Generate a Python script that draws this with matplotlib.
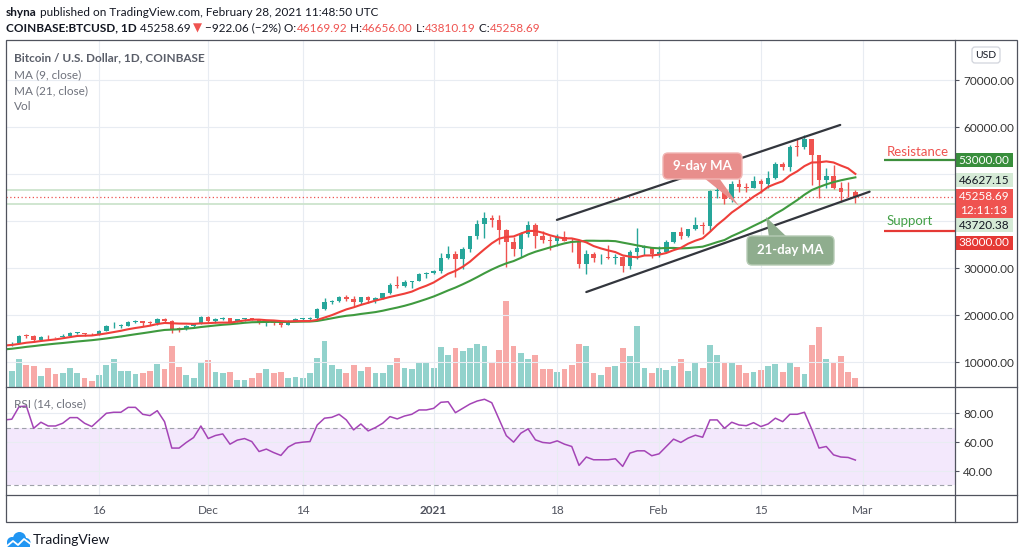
import matplotlib
matplotlib.use("Agg")
import matplotlib.pyplot as plt
import matplotlib.dates as mdates
from matplotlib.patches import FancyBboxPatch, Polygon, Rectangle, Circle
import numpy as np
import pandas as pd

plt.rcParams['font.family'] = ['Lato', 'DejaVu Sans']

# closes before the first visible candle (Oct 14 - Nov 2), only feed the moving averages
prev_closes = [11430, 11500, 11320, 11360, 11500, 11750, 11920, 12820, 12990, 12930,
               13120, 13040, 13070, 13650, 13280, 13460, 13560, 13800, 13760, 13550]

dates = pd.date_range("2020-11-03", "2021-02-28", freq="D")

opens = [
    # Nov 3 - Nov 30
    13550, 14030, 14150, 15600, 15580, 14830, 15480, 15330, 15310, 15700, 16290, 16330, 16080, 15960,
    16720, 17660, 17800, 17820, 18650, 18700, 18420, 18370, 19160, 18740, 17150, 17140, 17720, 18180,
    # Dec
    19700, 18770, 19220, 19430, 18650, 19150, 19360, 19170, 18320, 18550, 18260, 18040, 18800, 19170,
    19270, 19440, 21350, 22800, 23130, 23860, 23480, 22750, 23830, 23250, 23730, 24700, 26440, 26250,
    27030, 27360, 28880,
    # Jan
    28990, 29390, 32190, 33000, 32020, 34030, 36820, 39470, 40670, 40240, 38240, 35550, 34040, 37400,
    39150, 36800, 36050, 35800, 36630, 35900, 35500, 30830, 33000, 32100, 32290, 32270, 32500, 30400,
    33400, 34280, 34300,
    # Feb
    33100, 33540, 35510, 37680, 36950, 38300, 39240, 38900, 46440, 46500, 44840, 47990, 47400, 47180,
    48580, 47940, 49140, 52140, 51590, 55910, 55840, 57410, 54100, 48890, 49700, 47060, 46280, 46169.92]
highs = [
    14070, 14250, 15770, 15970, 15770, 15650, 15840, 15470, 15960, 16350, 16480, 16330, 16130, 16900,
    17860, 18480, 18190, 18810, 18970, 18750, 18760, 19420, 19480, 18920, 17460, 17870, 18350, 19870,
    19920, 19330, 19580, 19520, 19170, 19420, 19400, 19290, 18640, 18560, 18280, 18950, 19410, 19350,
    19570, 21560, 23770, 23290, 24170, 24300, 24100, 23840, 24100, 23790, 24790, 26870, 28420, 27500,
    27390, 28990, 29300,
    29680, 33300, 34800, 33600, 34500, 36950, 40370, 41950, 41380, 41350, 38260, 36600, 37800, 40100,
    39700, 37950, 36850, 37400, 37850, 36400, 35600, 33850, 33480, 32950, 34880, 32950, 32560, 33800,
    38600, 34940, 34300,
    34700, 35990, 37700, 38700, 38300, 40950, 39750, 46750, 48200, 47330, 48650, 48900, 48120, 49700,
    49000, 50620, 52580, 52530, 56300, 57560, 58350, 57530, 54180, 51400, 52040, 48400, 48400, 46656.00]
lows = [
    13290, 13530, 14120, 15200, 14360, 14710, 14820, 15090, 15280, 15450, 15990, 15700, 15800, 15880,
    16560, 17220, 17360, 17770, 18370, 17630, 18010, 18030, 18580, 16200, 16500, 16880, 17530, 18180,
    18320, 18340, 18930, 18570, 18500, 18870, 18900, 18200, 17650, 17900, 17580, 18020, 18710, 19000,
    19060, 19300, 21230, 22350, 22770, 23070, 21900, 22360, 22720, 22700, 23450, 24500, 25860, 26100,
    25880, 27320, 28000,
    28700, 29030, 32000, 28130, 29900, 33400, 36300, 36500, 38720, 35110, 30300, 32520, 32380, 36700,
    34400, 35400, 33850, 34750, 35780, 33400, 30100, 28800, 31400, 30900, 31900, 30830, 29240, 29900,
    31950, 32850, 32250,
    32300, 33430, 35370, 36160, 36600, 38240, 37350, 37990, 45000, 43700, 44060, 46180, 46270, 47060,
    45950, 47090, 48950, 50900, 50710, 53860, 55480, 47700, 45000, 47020, 46800, 44200, 45100, 43810.19]
closes = [
    14030, 14150, 15600, 15580, 14830, 15480, 15330, 15310, 15700, 16290, 16330, 16080, 15960, 16720,
    17660, 17800, 17820, 18650, 18700, 18420, 18370, 19160, 18740, 17150, 17140, 17720, 18180, 19700,
    18770, 19220, 19430, 18650, 19150, 19360, 19170, 18320, 18550, 18260, 18040, 18800, 19170, 19270,
    19440, 21350, 22800, 23130, 23860, 23480, 22750, 23830, 23250, 23730, 24700, 26440, 26250, 27030,
    27360, 28880, 28990,
    29390, 32190, 33000, 32020, 34030, 36820, 39470, 40670, 40240, 38240, 35550, 34040, 37400, 39150,
    36800, 36050, 35800, 36630, 35900, 35500, 30830, 33000, 32100, 32290, 32270, 32500, 30400, 33400,
    34280, 34300, 33100,
    33540, 35510, 37680, 36950, 38300, 39240, 38900, 46440, 46500, 44840, 47990, 47400, 47180, 48580,
    47940, 49140, 52140, 51590, 55910, 55840, 57410, 54100, 48890, 49700, 47060, 46280, 46170, 45258.69]

# volume, thousands
volume = [
    12.3, 15.7, 28, 22.3, 21.3, 10.7, 19.3, 12.7, 13.7, 19.3, 13.7, 9, 6.3, 12.3,
    22.3, 28, 15.7, 16.3, 12.7, 13.7, 15.7, 23.3, 18.3, 41.3, 20.3, 11.7, 9, 24.3,
    27, 14.7, 13.7, 14.5, 7.2, 7, 9, 13.7, 18.3, 13.7, 15.3, 8.7, 9.7, 8.7,
    13.7, 29, 46, 22.3, 18.3, 13.7, 22.3, 16.3, 20.3, 14.3, 14.3, 22.3, 28.7, 19.3,
    18.3, 25, 25,
    19.3, 40.3, 31.7, 39.3, 36.3, 39.3, 43.3, 41.3, 24.3, 37.3, 86.3, 41.3, 34.3, 28,
    32, 18.3, 17.7, 15.3, 17.7, 22.3, 43.3, 41.3, 14.3, 12.3, 20.3, 21.3, 39.3, 31,
    61.3, 19.3, 14.3,
    19.3, 17.3, 21.3, 28, 16.3, 24.7, 19, 41.7, 32, 23.7, 23.7, 21.7, 13.7, 15.3,
    17, 20.7, 22.7, 15.3, 24.7, 20, 12.7, 41.7, 60.3, 27.7, 24.7, 31, 15, 9.3]

rsi = [
    75.4, 75.9, 84.6, 85, 69.6, 73.8, 71.2, 71.2, 73.1, 77, 77, 73.1, 70.8, 75.4,
    80, 80.7, 80.7, 84.1, 84.1, 79.3, 78.4, 81.8, 74.2, 55.9, 55.9, 59.8, 63.2, 71.2,
    62.5, 64.6, 65.7, 58.6, 61.4, 62.5, 60.4, 53.5, 55.2, 52.8, 50.8, 56.6, 59.3, 60,
    60.4, 71.9, 76.6, 77.2, 79.3, 75.4, 68.5, 72.6, 67.8, 70.1, 73.1, 77.7, 76.1, 78.1,
    79.3, 82.3, 82.3,
    83.4, 87.6, 88, 80.4, 83.4, 86.4, 88.5, 89.7, 87.3, 75.9, 64.5, 60, 66.2, 69.2,
    61.6, 59.8, 59.3, 60.9, 58.6, 57, 43.9, 49.7, 47.8, 47.8, 47.8, 48.5, 43.2, 52.4,
    54, 54, 50.6,
    51.9, 57, 62.1, 59.8, 62.8, 64.8, 63.4, 75.4, 75.4, 69.6, 73.8, 71.9, 71.4, 73.5,
    70.8, 72.6, 76.6, 74.2, 79.3, 79.3, 80.7, 69, 55.9, 57, 51.2, 49.7, 49.4, 47.6]

# trend channel drawn on the chart (date, price)
channel_upper = [("2021-01-17 23:00", 40300), ("2021-02-25 22:00", 60500)]
channel_lower = [("2021-01-22", 24950), ("2021-03-01 23:00", 46300)]
resistance, support = 53000, 38000
last_price, line_hi, line_lo = 45258.69, 46627.15, 43720.38

price_ticks = [10000, 20000, 30000, 40000, 50000, 60000, 70000]
# 40000 and 50000 sit under the axis price boxes in the reference
price_tick_labels = ["10000.00", "20000.00", "30000.00", "", "", "60000.00", "70000.00"]
tick_dates = ["2020-11-16", "2020-12-01", "2020-12-14", "2021-01-01",
              "2021-01-18", "2021-02-01", "2021-02-15", "2021-03-01"]
tick_labels = ["16", "Dec", "14", "2021", "18", "Feb", "15", "Mar"]

# ---- figure ----
W, H = 1024, 557
GREEN, RED = '#26a69a', '#ef5350'
VGREEN, VRED = '#92d2cc', '#f7a9a7'
GRID = '#e8ecf2'
FRAME = '#50535e'
TXT = '#131722'


def rect(l, t, r, b):
    return [l / W, 1 - b / H, (r - l) / W, (b - t) / H]


fig = plt.figure(figsize=(W / 100, H / 100), dpi=100)
ax = fig.add_axes(rect(6, 40, 955, 387))
vax = ax.twinx()
rax = fig.add_axes(rect(6, 387, 955, 495), sharex=ax)
ax.set_zorder(vax.get_zorder() + 1)
ax.patch.set_visible(False)

x = mdates.date2num(dates)
o, h, l, c = map(np.array, (opens, highs, lows, closes))
up = c >= o
col = np.where(up, GREEN, RED)

all_close = pd.Series(prev_closes + closes)
ma9 = all_close.rolling(9).mean().to_numpy()[len(prev_closes):]
ma21 = all_close.rolling(21).mean().to_numpy()[len(prev_closes):]

x0 = mdates.date2num(pd.Timestamp("2020-11-16"))
ax.set_xlim(x0 - 12.8, x0 + 117.7)
ax.set_ylim(4745, 78574)

# volume overlay
vax.bar(x, volume, width=0.8, color=np.where(up, VGREEN, VRED), lw=0)
vax.set_ylim(0, max(volume) * 4.02)
vax.set_yticks([])

ax.grid(True, color=GRID, lw=0.8)
ax.set_axisbelow(True)
ax.axhline(line_hi, color='#cde4cd', lw=1.3, zorder=1)
ax.axhline(line_lo, color='#cde4cd', lw=1.3, zorder=1)
ax.axhline(last_price, color=RED, lw=0.9, ls=(0, (1, 2)), zorder=1)

# candles
ax.vlines(x, l, h, colors=col, lw=1, zorder=3)
ax.bar(x, np.maximum(np.abs(c - o), 150), bottom=np.minimum(o, c), width=0.62,
       color=col, lw=0, zorder=4)

ax.plot(x, ma21, color='#3f9a3f', lw=1.5, zorder=5)
ax.plot(x, ma9, color='#ef3f3a', lw=1.5, zorder=5)

for seg in (channel_upper, channel_lower):
    sx = [mdates.date2num(pd.Timestamp(d)) for d, _ in seg]
    sy = [p for _, p in seg]
    ax.plot(sx, sy, color='#33363d', lw=1.6, zorder=6, solid_capstyle='round')

xr = mdates.date2num(pd.Timestamp("2021-03-04"))
ax.hlines(resistance, xr, ax.get_xlim()[1], color='#3c8f3c', lw=1.6, zorder=6)
ax.hlines(support, xr, ax.get_xlim()[1], color='#e53935', lw=1.6, zorder=6)
ax.annotate("Resistance", (xr + 0.3, resistance), xytext=(0, 2.5), textcoords='offset pixels',
            color='#ef5350', fontsize=9.5, va='bottom', ha='left')
ax.annotate("Support", (xr + 0.3, support), xytext=(0, 4), textcoords='offset pixels',
            color='#43a047', fontsize=9.5, va='bottom', ha='left')

ax.set_xticks([mdates.date2num(pd.Timestamp(d)) for d in tick_dates])
ax.tick_params(axis='x', labelbottom=False, length=0)
ax.yaxis.tick_right()
ax.set_yticks(price_ticks)
ax.set_yticklabels(price_tick_labels)
ax.tick_params(axis='y', length=3, width=0.8, color=FRAME, pad=3, labelsize=8.5, labelcolor='#333333')

# RSI pane
rax.axhspan(30, 70, color='#f3e8fc', zorder=0, lw=0)
rax.axhline(70, color='#9ea1a9', lw=0.8, ls=(0, (4, 3)))
rax.axhline(30, color='#9ea1a9', lw=0.8, ls=(0, (4, 3)))
rax.plot(x, rsi, color='#a444b6', lw=1.1)
rax.set_ylim(23.4, 98.2)
rax.grid(True, color=GRID, lw=0.8)
rax.set_axisbelow(True)
rax.yaxis.tick_right()
rax.set_yticks([40, 60, 80])
rax.set_yticklabels(["40.00", "60.00", "80.00"])
rax.tick_params(axis='y', length=3, width=0.8, color=FRAME, pad=3, labelsize=8.5, labelcolor='#333333')
rax.set_xticklabels(tick_labels)
rax.tick_params(axis='x', length=0, pad=7, labelsize=8.5, labelcolor='#50535e')
for t in rax.get_xticklabels():
    if t.get_text() == "2021":
        t.set_fontweight('bold')

for a in (ax, vax, rax):
    for s in a.spines.values():
        s.set_visible(False)

# overlay in pixel coordinates
bg = fig.add_axes([0, 0, 1, 1])
bg.set_xlim(0, W)
bg.set_ylim(H, 0)
bg.axis('off')
bg.set_zorder(10)

bg.add_patch(Rectangle((6, 40), 1011, 482, fill=False, ec=FRAME, lw=0.9))
bg.plot([955, 955], [40, 522], color=FRAME, lw=0.9)
bg.plot([6, 1017], [387, 387], color=FRAME, lw=0.9)
bg.plot([6, 1017], [495, 495], color=FRAME, lw=0.9)


def price_px(p):
    return H - ax.transData.transform((ax.get_xlim()[0], p))[1]


# price labels on the axis: (value, face, text colour, shift in px)
axis_labels = [(resistance, '#388e3c', 'white', 0),
               (line_hi, '#d5ead6', TXT, -10),
               (line_lo, '#d5ead6', TXT, 21.5),
               (support, '#e53935', 'white', 12)]
for val, fc, tc, dy in axis_labels:
    py = price_px(val) + dy
    bg.add_patch(Rectangle((955.5, py - 7), 57.5, 14, fc=fc, ec='none'))
    bg.text(984, py, f"{val:.2f}", color=tc, fontsize=8.5, ha='center', va='center')
py = price_px(last_price)
bg.add_patch(Rectangle((955.5, py - 7.5), 57.5, 29, fc='#ef5350', ec='none'))
bg.text(984, py, f"{last_price:.2f}", color='white', fontsize=8.5, ha='center', va='center')
bg.text(984, py + 14, "12:11:13", color='white', fontsize=8.5, ha='center', va='center')

bg.add_patch(FancyBboxPatch((972, 47), 28, 16, boxstyle='round,pad=0,rounding_size=3',
                            fc='white', ec='#d1d4dc', lw=0.9))
bg.text(986, 55.5, "USD", color=TXT, fontsize=7.5, ha='center', va='center')

# callouts
bg.add_patch(Polygon([(704, 178), (719, 178), (739, 206)], fc='#e88e8c', ec='none'))
bg.add_patch(FancyBboxPatch((663, 153), 79, 26, boxstyle='round,pad=0,rounding_size=5',
                            fc='#e88e8c', ec='#f1b5b3', lw=1))
bg.text(702.5, 166.5, "9-day MA", color='white', fontsize=9.5, fontweight='bold', ha='center', va='center')
bg.add_patch(Polygon([(769, 237), (787, 237), (766, 217)], fc='#8fad8e', ec='none'))
bg.add_patch(FancyBboxPatch((747, 236), 87, 29, boxstyle='round,pad=0,rounding_size=5',
                            fc='#8fad8e', ec='#b5cbb4', lw=1))
bg.text(790.5, 250.5, "21-day MA", color='white', fontsize=9.5, fontweight='bold', ha='center', va='center')

# legend texts
bg.text(14, 58, "Bitcoin / U.S. Dollar, 1D, COINBASE", color='#5a5e69', fontsize=8.5,
        fontweight='bold', va='center')
bg.text(14, 75, "MA (9, close)", color='#6f727c', fontsize=8.5, va='center')
bg.text(14, 91, "MA (21, close)", color='#6f727c', fontsize=8.5, va='center')
bg.text(14, 106, "Vol", color='#6f727c', fontsize=8.5, va='center')
bg.text(14, 404, "RSI (14, close)", color='#6f727c', fontsize=8.5, va='center')


def chain(parts, px, py, size):
    prev = bg.text(px, py, parts[0][0], color=parts[0][1], fontweight=parts[0][2],
                   fontsize=size, va='center')
    for s, color, weight in parts[1:]:
        prev = bg.annotate(s, xy=(1, 0), xycoords=prev, va='bottom', ha='left',
                           color=color, fontweight=weight, fontsize=size)


chain([("shyna", TXT, 'bold'),
       (" published on TradingView.com, February 28, 2021 11:48:50 UTC", TXT, 'normal')], 6, 12, 8.5)
chain([("COINBASE:BTCUSD, 1D", TXT, 'bold'),
       (" 45258.69 ", TXT, 'normal'), ("▼", RED, 'normal'),
       (" \u2212922.06 (\u22122%) O:", TXT, 'normal'), ("46169.92", RED, 'normal'),
       (" H:", TXT, 'normal'), ("46656.00", RED, 'normal'),
       (" L:", TXT, 'normal'), ("43810.19", RED, 'normal'),
       (" C:", TXT, 'normal'), ("45258.69", RED, 'normal')], 6, 28, 8.5)

# TradingView logo
for cx, cy, r in [(12, 542, 5), (19.5, 538.5, 6.5), (26, 542.5, 4.5)]:
    bg.add_patch(Circle((cx, cy), r, fc='#2196f3', ec='none'))
bg.add_patch(Rectangle((7, 542), 23, 5, fc='#2196f3', ec='none'))
bg.plot([7, 13, 18, 24, 30], [546, 541, 545, 539, 543.5], color='white', lw=1.3)
bg.text(33, 540, "TradingView", color=TXT, fontsize=10, va='center')

fig.savefig("out.png", dpi=100)
